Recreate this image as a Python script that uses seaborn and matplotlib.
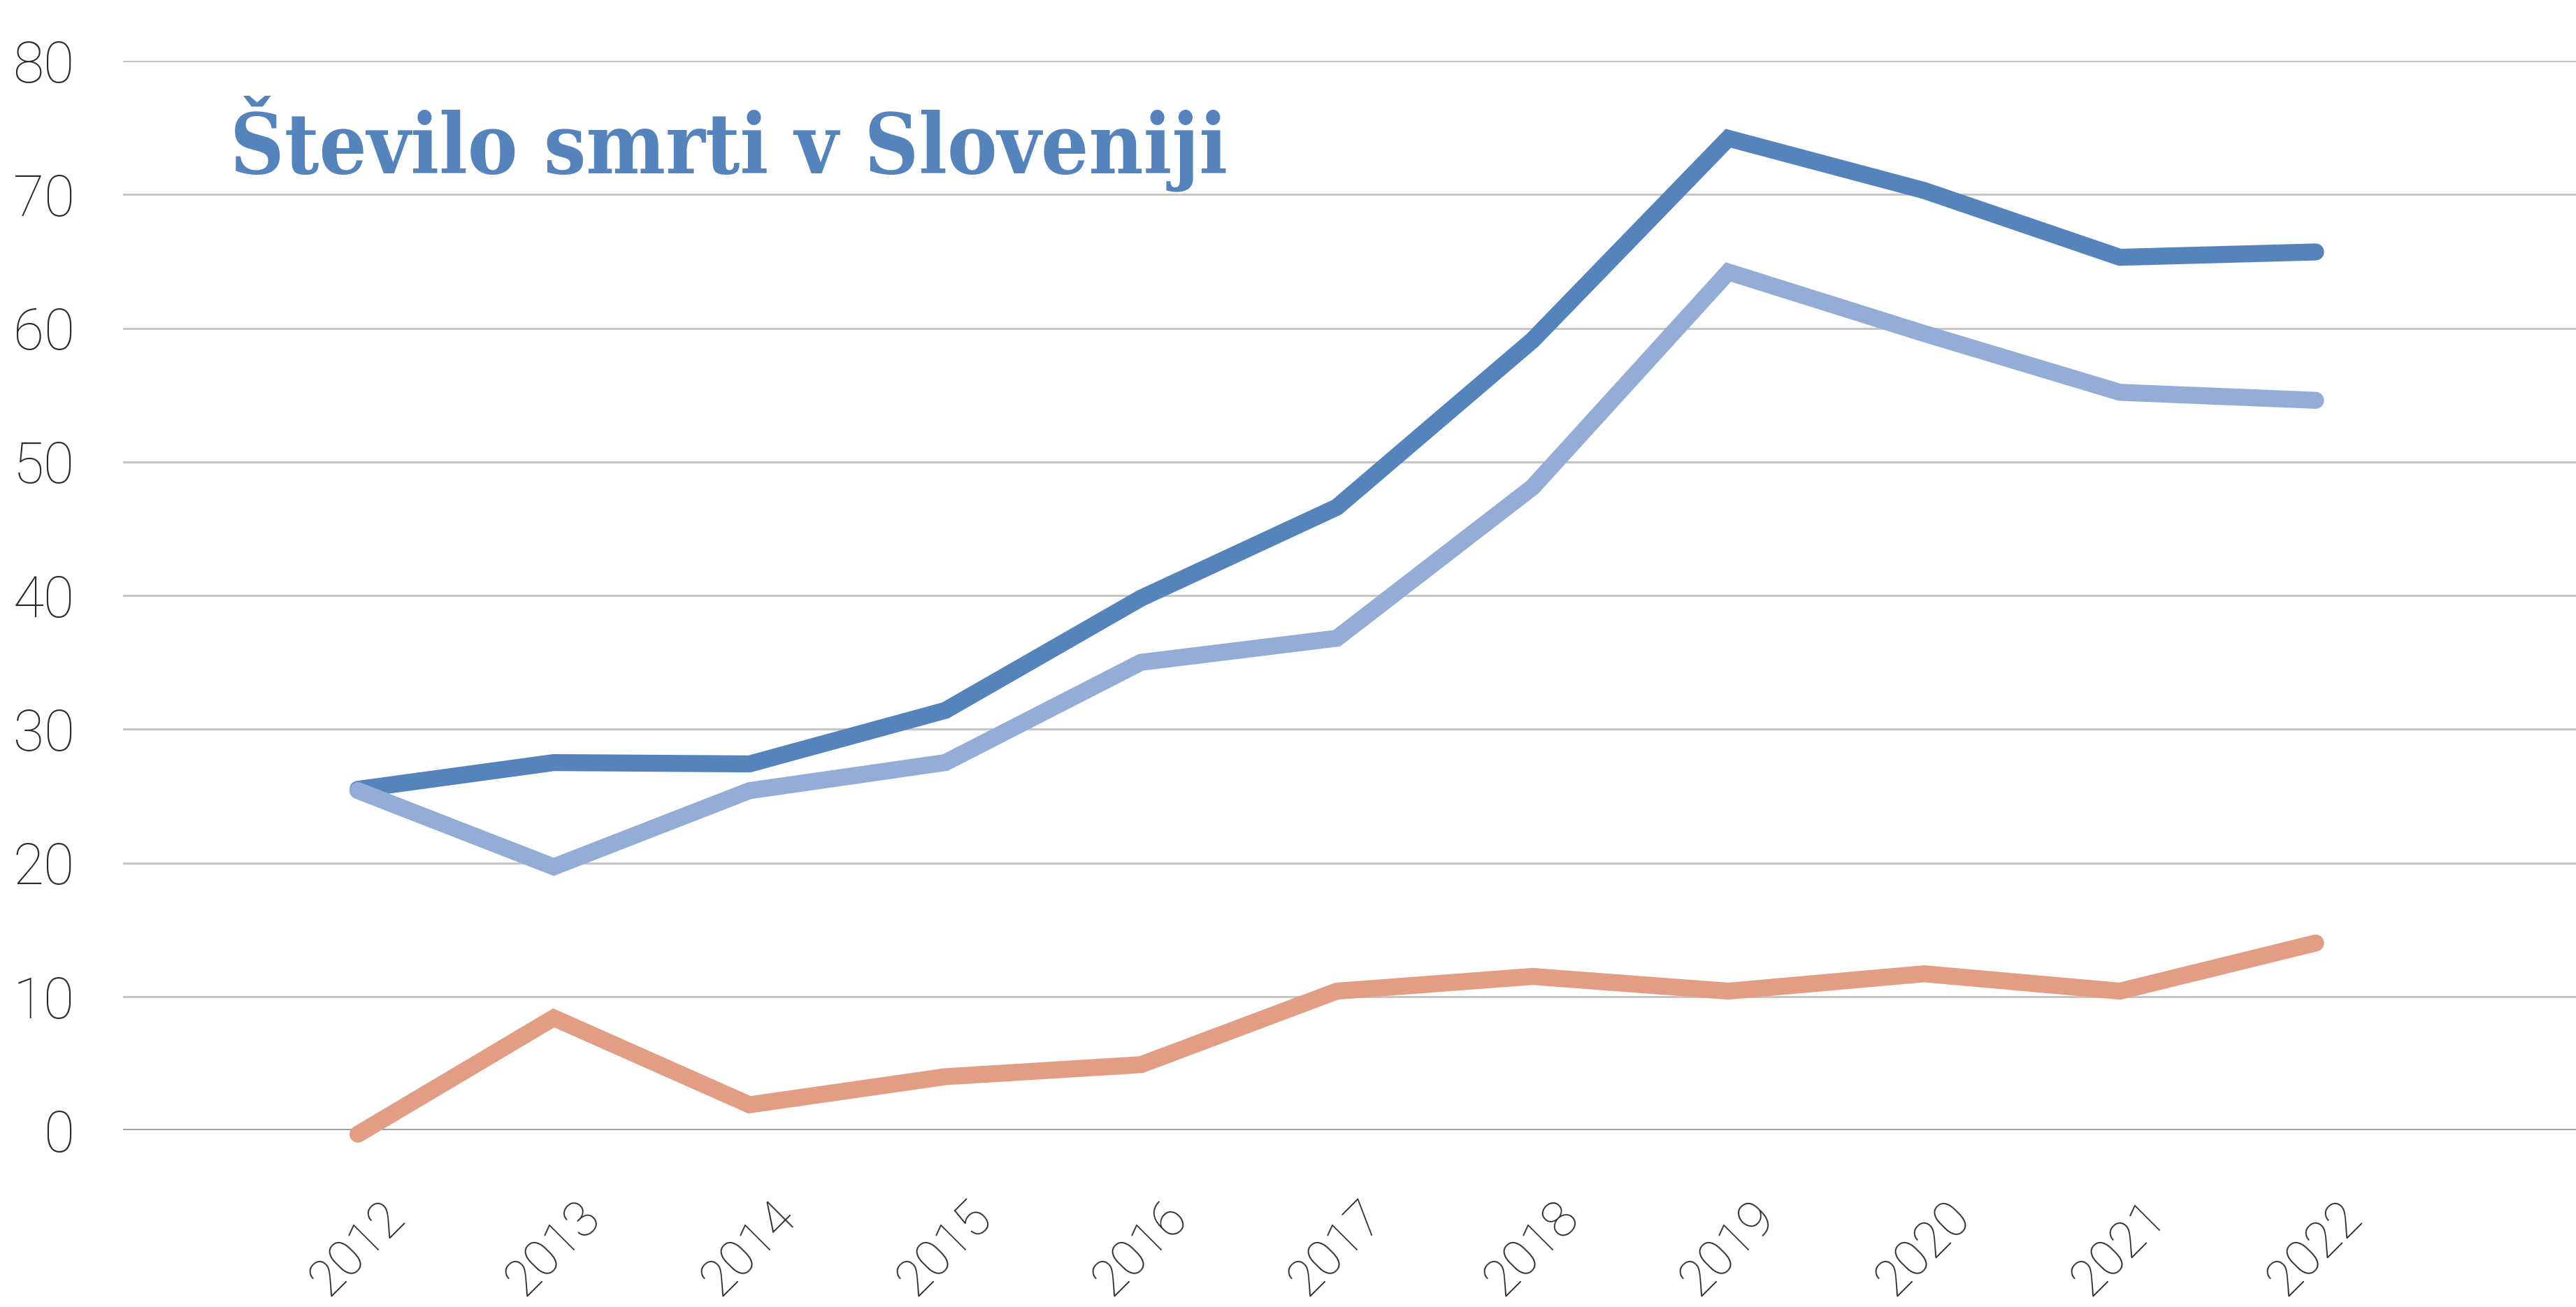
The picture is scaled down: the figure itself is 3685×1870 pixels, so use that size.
import matplotlib
matplotlib.use("Agg")
import matplotlib.pyplot as plt
import seaborn as sns
import pandas as pd

# ---- data ----
years = ["2012", "2013", "2014", "2015", "2016", "2017", "2018", "2019", "2020", "2021", "2022"]
skupaj = [25.5, 27.5, 27.4, 31.4, 39.8, 46.6, 59.1, 74.2, 70.3, 65.3, 65.7]
moski = [25.4, 19.7, 25.4, 27.5, 35.0, 36.8, 48.1, 64.2, 59.6, 55.2, 54.6]
zenske = [-0.3, 8.4, 1.9, 4.0, 4.9, 10.4, 11.5, 10.4, 11.7, 10.4, 14.0]
series_names = ["Skupaj", "Moški", "Ženske"]
series_colors = ["#5584BC", "#94ADD6", "#E39D84"]
yticks = [0, 10, 20, 30, 40, 50, 60, 70, 80]
title = "Število smrti v Sloveniji"

rows = []
for name, vals in zip(series_names, [skupaj, moski, zenske]):
    for i, (yr, v) in enumerate(zip(years, vals)):
        rows.append({"idx": i, "leto": yr, "vrednost": v, "serija": name})
df = pd.DataFrame(rows)

sns.set_theme(style="white")
plt.rcParams["font.family"] = ["Roboto", "DejaVu Sans"]

fig = plt.figure(figsize=(36.85, 18.70), dpi=100)
ax = fig.add_axes([176 / 3685, 1 - 1617 / 1870, 1 - 176 / 3685, (1617 - 87) / 1870])

# gridlines
for t in yticks[1:]:
    ax.axhline(t, color="#C6C6C6", linewidth=2.2, zorder=0)
ax.axhline(0, color="#9A9A9A", linewidth=3.4, zorder=1, solid_capstyle="round")

sns.lineplot(
    data=df, x="idx", y="vrednost", hue="serija",
    hue_order=series_names, palette=dict(zip(series_names, series_colors)),
    linewidth=17.5, legend=False, ax=ax, sort=False, estimator=None,
)
for ln in ax.get_lines()[-3:]:
    ln.set_solid_capstyle("round")
    ln.set_solid_joinstyle("miter")
    ln.set_clip_on(False)
    ln.set_zorder(3)

ax.set_xlim(-1.2, 11.33)
ax.set_ylim(0, 80)
ax.set_yticks(yticks)
ax.set_yticklabels([str(t) for t in yticks])
ax.set_xticks(range(len(years)))
ax.set_xticklabels(years, rotation=45, ha="center", va="top")
ax.tick_params(axis="y", length=0, pad=50, labelsize=58, labelcolor="#2B2B2B")
ax.tick_params(axis="x", length=0, pad=64, labelsize=52, labelcolor="#2B2B2B")
for lab in ax.get_xticklabels() + ax.get_yticklabels():
    lab.set_fontweight("light")
ax.set_xlabel("")
ax.set_ylabel("")
for s in ax.spines.values():
    s.set_visible(False)
ax.grid(False)

fig.text(329 / 3685, 1 - 247 / 1870, title, color="#5584BC",
         fontsize=86, fontweight="bold", family=["DejaVu Serif"],
         fontstretch="condensed", va="baseline", ha="left")

fig.savefig("out.png", dpi=100, facecolor="white")
